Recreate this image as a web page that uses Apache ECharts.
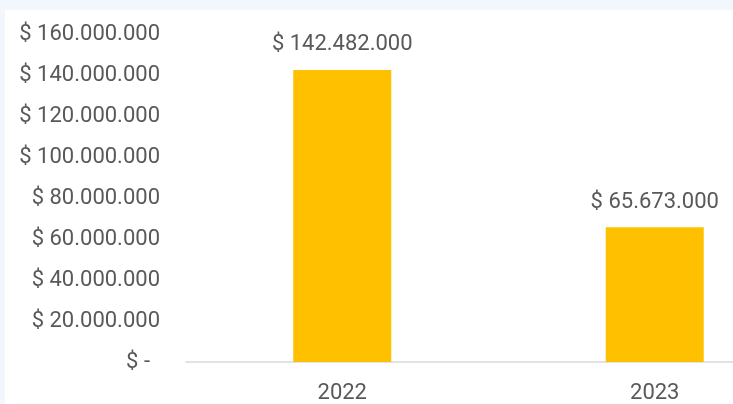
<!DOCTYPE html>
<html>
<head>
<meta charset="utf-8">
<script src="https://cdn.jsdelivr.net/npm/echarts@6/dist/echarts.min.js"></script>
<style>
html,body{margin:0;padding:0;width:733px;height:404px;overflow:hidden;background:#f2f6fd;}
#c{position:absolute;left:5px;top:10px;width:900px;height:394px;background:#ffffff;}
</style>
</head>
<body>
<div id="c"></div>
<script>
const categories = ['2022', '2023'];
const values = [142482000, 65673000];
const yTicks = [0, 20000000, 40000000, 60000000, 80000000, 100000000, 120000000, 140000000, 160000000];

function fmt(v) {
  if (v === 0) return '{z|$ -}';
  return '$ ' + String(Math.round(v)).replace(/\B(?=(\d{3})+(?!\d))/g, '.');
}

const chart = echarts.init(document.getElementById('c'), null, {renderer: 'canvas'});
const textStyle = {fontFamily: 'Roboto, Liberation Sans, Arial, sans-serif', fontSize: 22, color: '#595959'};
chart.setOption({
  animation: false,
  grid: {left: 181, top: 24, width: 625, height: 328},
  xAxis: {
    type: 'category',
    data: categories,
    axisLine: {lineStyle: {color: '#d9d9d9', width: 1.5}},
    axisTick: {show: false},
    axisLabel: Object.assign({margin: 20}, textStyle)
  },
  yAxis: {
    type: 'value',
    min: yTicks[0],
    max: yTicks[yTicks.length - 1],
    interval: yTicks[1] - yTicks[0],
    axisLine: {show: false},
    axisTick: {show: false},
    splitLine: {show: false},
    axisLabel: Object.assign({margin: 26, formatter: fmt, rich: {z: Object.assign({padding: [0, 10, 0, 0]}, textStyle)}}, textStyle)
  },
  series: [{
    type: 'bar',
    data: values,
    barWidth: 98,
    itemStyle: {color: '#ffc000'},
    label: Object.assign({show: true, position: 'top', distance: 14, formatter: p => fmt(p.value)}, textStyle)
  }]
});
</script>
</body>
</html>
